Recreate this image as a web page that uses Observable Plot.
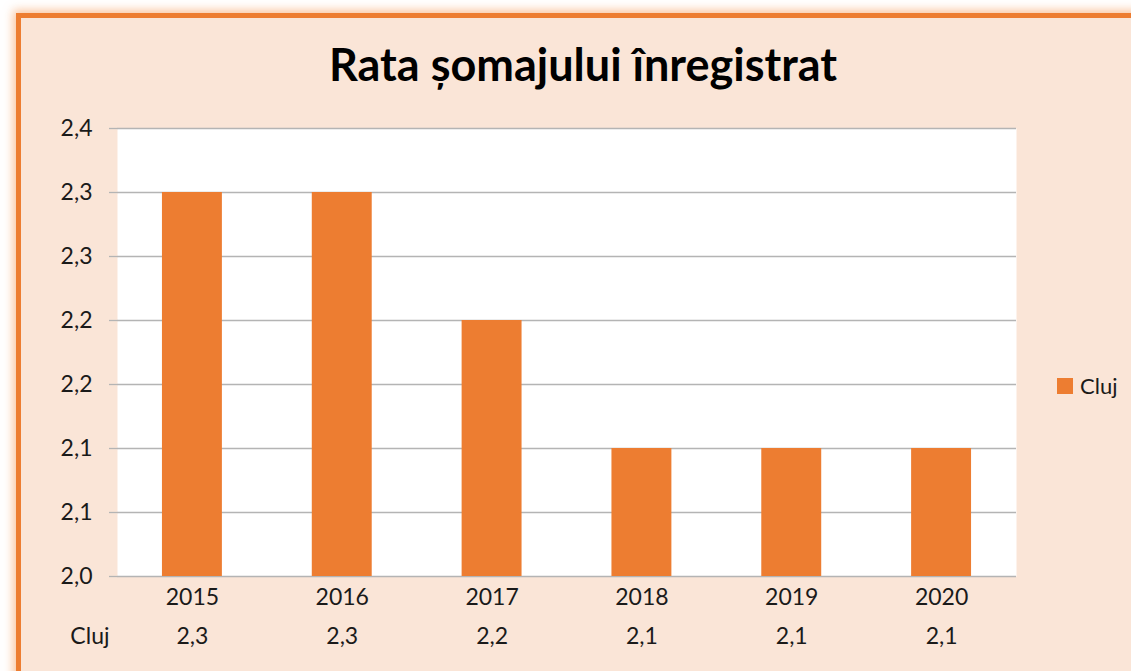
<!DOCTYPE html>
<html>
<head>
<meta charset="utf-8">
<script src="https://cdn.jsdelivr.net/npm/d3@7"></script>
<script src="https://cdn.jsdelivr.net/npm/@observablehq/plot@0.6"></script>
<style>
  html, body { margin: 0; padding: 0; background: #ffffff; }
  #wrap { position: relative; width: 1131px; height: 671px; overflow: hidden; background: #ffffff; font-family: Lato, "Noto Sans", sans-serif; }
  #frame { position: absolute; left: 16px; top: 13px; width: 1150px; height: 680px; box-sizing: border-box;
           background: #FAE5D7; border: 5px solid #ED7D31; box-shadow: 0 0 9px 3px rgba(245,150,80,0.55); }
  #title { position: absolute; left: 0; width: 1166px; top: 37px; text-align: center; font-size: 45px; font-weight: 700; color: #000; }
  #legend { position: absolute; left: 1057px; top: 372px; font-size: 22px; color: #1a1a1a; display: flex; align-items: center; }
  #legend span.sw { display: inline-block; width: 16px; height: 16px; background: #ED7D31; margin-right: 7px; }
  #plot { position: absolute; left: 0; top: 0; }
</style>
</head>
<body>
<div id="wrap">
  <div id="frame"></div>
  <div id="title">Rata șomajului înregistrat</div>
  <div id="plot"></div>
  <div id="legend"><span class="sw"></span><span>Cluj</span></div>
</div>
<script>
const years = ["2015", "2016", "2017", "2018", "2019", "2020"];
const values = [2.3, 2.3, 2.2, 2.1, 2.1, 2.1];
const tableLabels = ["2,3", "2,3", "2,2", "2,1", "2,1", "2,1"];
const seriesName = "Cluj";
const yTicks = [2.0, 2.05, 2.1, 2.15, 2.2, 2.25, 2.3, 2.35];
const yTickLabels = ["2,0", "2,1", "2,1", "2,2", "2,2", "2,3", "2,3", "2,4"];
const yMin = 2.0, yMax = 2.35;

const rows = years.map((y, i) => ({year: y, value: values[i], label: tableLabels[i]}));
const gridColor = "#b4b4b4";
const barColor = "#ED7D31";

const chart = Plot.plot({
  width: 1131,
  height: 671,
  marginLeft: 117,
  marginRight: 115,
  marginTop: 128,
  marginBottom: 95,
  style: {background: "transparent", fontFamily: "Lato, 'Noto Sans', sans-serif", color: "#1a1a1a"},
  x: {type: "band", domain: years, paddingInner: 0.6, paddingOuter: 0.3, round: false, label: null},
  y: {domain: [yMin, yMax], label: null},
  marks: [
    Plot.frame({fill: "white", stroke: null}),
    Plot.ruleY(yTicks, {stroke: gridColor, strokeWidth: 1.3}),
    Plot.ruleX([0], {x: () => null, frameAnchor: "left", stroke: gridColor, strokeWidth: 1.3}),
    Plot.barY(rows, {x: "year", y1: yMin, y2: "value", fill: barColor}),
    Plot.axisY({ticks: yTicks, tickFormat: (d, i) => yTickLabels[i], tickSize: 8, tickPadding: 17,
                stroke: gridColor, fontSize: 23, strokeWidth: 1.3}),
    Plot.axisX({tickSize: 0, tickPadding: 12, fontSize: 23}),
    Plot.text(rows, {x: "year", text: "label", frameAnchor: "bottom", dy: 67, fontSize: 23}),
    Plot.text([seriesName], {text: d => d, frameAnchor: "bottom-left", dx: -8, dy: 67, textAnchor: "end", fontSize: 23})
  ]
});
document.getElementById("plot").appendChild(chart);
</script>
</body>
</html>
